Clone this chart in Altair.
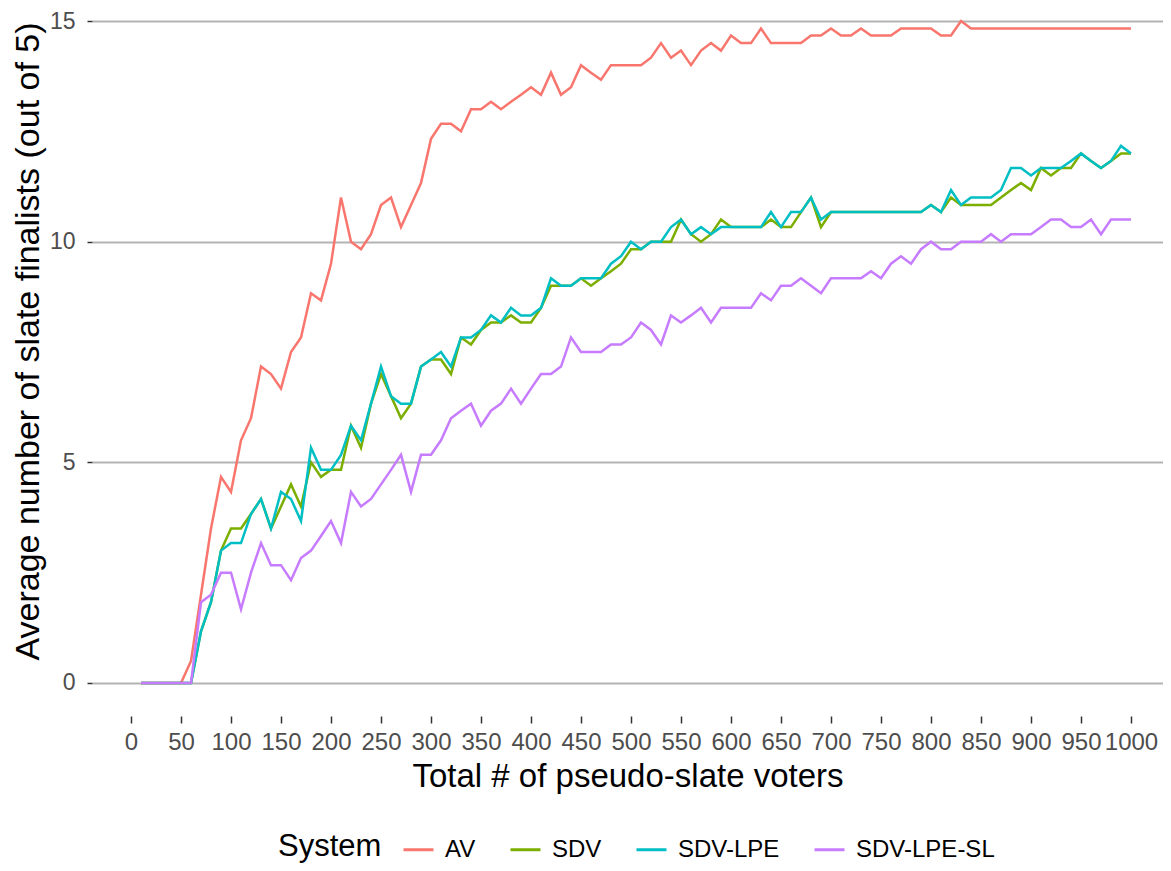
import altair as alt
import pandas as pd

voters = list(range(10, 1001, 10))
systems = ["AV", "SDV", "SDV-LPE", "SDV-LPE-SL"]
colors = ["#F8766D", "#7CAE00", "#00BFC4", "#C77CFF"]
x_ticks = list(range(0, 1001, 50))
y_ticks = [0, 5, 10, 15]

av = [0, 0, 0, 0, 0, 0.5, 2.0, 3.5, 4.67, 4.33,
      5.5, 6.0, 7.17, 7.0, 6.67, 7.5, 7.83, 8.83, 8.67, 9.5,
      11.0, 10.0, 9.83, 10.17, 10.83, 11.0, 10.33, 10.83, 11.33, 12.33,
      12.67, 12.67, 12.5, 13.0, 13.0, 13.17, 13.0, 13.17, 13.33, 13.5,
      13.33, 13.83, 13.33, 13.5, 14.0, 13.83, 13.67, 14.0, 14.0, 14.0,
      14.0, 14.17, 14.5, 14.17, 14.33, 14.0, 14.33, 14.5, 14.33, 14.67,
      14.5, 14.5, 14.83, 14.5, 14.5, 14.5, 14.5, 14.67, 14.67, 14.83,
      14.67, 14.67, 14.83, 14.67, 14.67, 14.67, 14.83, 14.83, 14.83, 14.83,
      14.67, 14.67, 15.0, 14.83, 14.83, 14.83, 14.83, 14.83, 14.83, 14.83,
      14.83, 14.83, 14.83, 14.83, 14.83, 14.83, 14.83, 14.83, 14.83, 14.83]

sdv = [0, 0, 0, 0, 0, 0, 1.17, 1.83, 3.0, 3.5,
       3.5, 3.83, 4.17, 3.5, 4.0, 4.5, 4.0, 5.0, 4.67, 4.83,
       4.83, 5.83, 5.33, 6.33, 7.0, 6.5, 6.0, 6.33, 7.17, 7.33,
       7.33, 7.0, 7.83, 7.67, 8.0, 8.17, 8.17, 8.33, 8.17, 8.17,
       8.5, 9.0, 9.0, 9.0, 9.17, 9.0, 9.17, 9.33, 9.5, 9.83,
       9.83, 10.0, 10.0, 10.0, 10.5, 10.17, 10.0, 10.17, 10.5, 10.33,
       10.33, 10.33, 10.33, 10.5, 10.33, 10.33, 10.67, 11.0, 10.33, 10.67,
       10.67, 10.67, 10.67, 10.67, 10.67, 10.67, 10.67, 10.67, 10.67, 10.83,
       10.67, 11.0, 10.83, 10.83, 10.83, 10.83, 11.0, 11.17, 11.33, 11.17,
       11.67, 11.5, 11.67, 11.67, 12.0, 11.83, 11.67, 11.83, 12.0, 12.0]

sdv_lpe = [0, 0, 0, 0, 0, 0, 1.17, 1.83, 3.0, 3.17,
           3.17, 3.83, 4.17, 3.5, 4.33, 4.17, 3.67, 5.33, 4.83, 4.83,
           5.17, 5.83, 5.5, 6.33, 7.17, 6.5, 6.33, 6.33, 7.17, 7.33,
           7.5, 7.17, 7.83, 7.83, 8.0, 8.33, 8.17, 8.5, 8.33, 8.33,
           8.5, 9.17, 9.0, 9.0, 9.17, 9.17, 9.17, 9.5, 9.67, 10.0,
           9.83, 10.0, 10.0, 10.33, 10.5, 10.17, 10.33, 10.17, 10.33, 10.33,
           10.33, 10.33, 10.33, 10.67, 10.33, 10.67, 10.67, 11.0, 10.5, 10.67,
           10.67, 10.67, 10.67, 10.67, 10.67, 10.67, 10.67, 10.67, 10.67, 10.83,
           10.67, 11.17, 10.83, 11.0, 11.0, 11.0, 11.17, 11.67, 11.67, 11.5,
           11.67, 11.67, 11.67, 11.83, 12.0, 11.83, 11.67, 11.83, 12.17, 12.0]

sdv_lpe_sl = [0, 0, 0, 0, 0, 0, 1.83, 2.0, 2.5, 2.5,
              1.67, 2.5, 3.17, 2.67, 2.67, 2.33, 2.83, 3.0, 3.33, 3.67,
              3.17, 4.33, 4.0, 4.17, 4.5, 4.83, 5.17, 4.33, 5.17, 5.17,
              5.5, 6.0, 6.17, 6.33, 5.83, 6.17, 6.33, 6.67, 6.33, 6.67,
              7.0, 7.0, 7.17, 7.83, 7.5, 7.5, 7.5, 7.67, 7.67, 7.83,
              8.17, 8.0, 7.67, 8.33, 8.17, 8.33, 8.5, 8.17, 8.5, 8.5,
              8.5, 8.5, 8.83, 8.67, 9.0, 9.0, 9.17, 9.0, 8.83, 9.17,
              9.17, 9.17, 9.17, 9.33, 9.17, 9.5, 9.67, 9.5, 9.83, 10.0,
              9.83, 9.83, 10.0, 10.0, 10.0, 10.17, 10.0, 10.17, 10.17, 10.17,
              10.33, 10.5, 10.5, 10.33, 10.33, 10.5, 10.17, 10.5, 10.5, 10.5]

rows = []
for name, vals in zip(systems, [av, sdv, sdv_lpe, sdv_lpe_sl]):
    for xv, yv in zip(voters, vals):
        rows.append({"voters": xv, "finalists": yv, "System": name})
df = pd.DataFrame(rows)

FONT = "Liberation Sans"

chart = alt.Chart(df).mark_line(strokeWidth=2.5, clip=True).encode(
    x=alt.X(
        "voters:Q",
        scale=alt.Scale(domain=[-39, 1032], nice=False, zero=False),
        axis=alt.Axis(
            values=x_ticks, format="d", title="Total # of pseudo-slate voters",
            grid=False, domain=False, tickColor="#333333", tickSize=7, tickWidth=1.5,
            labelOverlap=False, labelFlush=False, labelBound=False,
            labelFontSize=24, labelColor="#4D4D4D", labelFont=FONT, labelPadding=7,
            titleFontSize=33, titleFontWeight="normal", titleFont=FONT,
            titleColor="black", titlePadding=6,
        ),
    ),
    y=alt.Y(
        "finalists:Q",
        scale=alt.Scale(domain=[-0.748, 15.295], nice=False, zero=False),
        axis=alt.Axis(
            values=y_ticks, title="Average number of slate finalists (out of 5)",
            grid=True, gridColor="#B3B3B3", gridWidth=2, domain=False,
            tickColor="#333333", tickSize=5, tickWidth=1.5,
            labelFontSize=23, labelColor="#4D4D4D", labelFont=FONT, labelPadding=12,
            titleFontSize=34, titleFontWeight="normal", titleFont=FONT,
            titleColor="black", titleX=-64, titleY=333, titleBaseline="middle",
            titleAlign="center",
        ),
    ),
    color=alt.Color(
        "System:N",
        scale=alt.Scale(domain=systems, range=colors),
        legend=alt.Legend(
            orient="none", legendX=186, legendY=825, direction="horizontal",
            titleOrient="left", title="System", titleFontSize=31,
            titleFontWeight="normal", titleFont=FONT, titleColor="black",
            titlePadding=20, labelFontSize=24, labelFont=FONT, labelColor="black",
            symbolType="stroke", symbolSize=900, symbolStrokeWidth=3,
            columnPadding=28, labelOffset=10,
        ),
    ),
).properties(
    width=1071, height=708,
    padding={"left": 84, "top": 0, "right": 0, "bottom": 147},
    autosize="none",
).configure(background="white").configure_view(stroke=None)

chart.save("out.html", embed_options={"renderer": "svg", "actions": False})
